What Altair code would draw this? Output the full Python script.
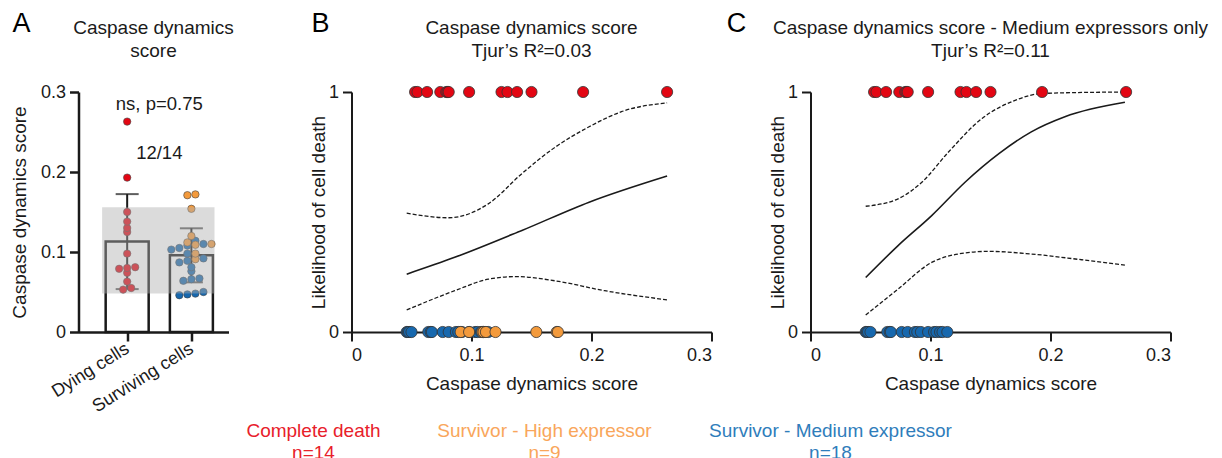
import altair as alt
import pandas as pd

FONT = "Liberation Sans"
INK = "#1a1a1a"

# ---------------- data ----------------
dying_scores = [0.053, 0.055, 0.063, 0.074, 0.079, 0.080, 0.081, 0.098,
                0.125, 0.130, 0.138, 0.150, 0.193, 0.263]
high_scores = [0.091, 0.098, 0.109, 0.110, 0.112, 0.120, 0.154, 0.171, 0.172]
medium_scores = [0.046, 0.047, 0.048, 0.050, 0.064, 0.066, 0.067, 0.076, 0.081,
                 0.087, 0.089, 0.092, 0.098, 0.103, 0.105, 0.108, 0.110, 0.114]

group_names = ["Dying cells", "Surviving cells"]
class_names = ["Complete death", "Survivor - High expressor", "Survivor - Medium expressor"]
class_counts = [14, 9, 18]
point_colors = ["#E30613", "#F39A3C", "#1768AE"]
legend_colors = ["#E8202A", "#F9A65B", "#2F7DBB"]
panel_letters = ["A", "B", "C"]
panel_titles = [
    "Caspase dynamics\nscore",
    "Caspase dynamics score\nTjur’s R²=0.03",
    "Caspase dynamics score - Medium expressors only\nTjur’s R²=0.11",
]

band_range = [0.048, 0.156]
annot_text = ["ns, p=0.75", "12/14"]
annot_y = [0.285, 0.224]

# panel B logistic fit and confidence band
b_fit_x = [0.046, 0.086, 0.142, 0.198, 0.263]
b_fit_y = [0.241, 0.311, 0.423, 0.541, 0.650]
b_up_x = [0.046, 0.081, 0.114, 0.142, 0.170, 0.198, 0.225, 0.263]
b_up_y = [0.495, 0.476, 0.534, 0.660, 0.771, 0.855, 0.918, 0.955]
b_lo_x = [0.046, 0.086, 0.114, 0.137, 0.170, 0.211, 0.263]
b_lo_y = [0.092, 0.172, 0.220, 0.231, 0.213, 0.172, 0.134]

# panel C
c_fit_x = [0.046, 0.073, 0.101, 0.129, 0.157, 0.184, 0.212, 0.262]
c_fit_y = [0.227, 0.360, 0.485, 0.625, 0.743, 0.834, 0.897, 0.957]
c_up_x = [0.046, 0.073, 0.093, 0.115, 0.143, 0.171, 0.193, 0.262]
c_up_y = [0.524, 0.555, 0.625, 0.750, 0.890, 0.966, 0.994, 1.000]
c_lo_x = [0.046, 0.073, 0.101, 0.123, 0.148, 0.184, 0.226, 0.262]
c_lo_y = [0.071, 0.179, 0.290, 0.325, 0.336, 0.325, 0.301, 0.279]

# ---------------- tables ----------------
rows = []
for s in dying_scores:
    rows.append({"score": s, "cls": class_names[0], "group": group_names[0], "outcome": 1})
for s in medium_scores:
    rows.append({"score": s, "cls": class_names[2], "group": group_names[1], "outcome": 0})
for s in high_scores:
    rows.append({"score": s, "cls": class_names[1], "group": group_names[1], "outcome": 0})
cells = pd.DataFrame(rows)

color_enc = alt.Color("cls:N", scale=alt.Scale(domain=class_names, range=point_colors), legend=None)
zero_fmt = "datum.value == 0 ? '0' : format(datum.value, '.1f')"


def letter(i, dx):
    return alt.Chart(pd.DataFrame({"L": [panel_letters[i]]})).mark_text(
        fontSize=27, color="black", font=FONT, align="center", baseline="middle"
    ).encode(text="L:N", x=alt.value(dx), y=alt.value(-68))


def title_text(i, cx):
    return alt.Chart(pd.DataFrame({"T": [panel_titles[i]]})).mark_text(
        fontSize=19, color=INK, font=FONT, align="center", baseline="middle",
        lineBreak="\n", lineHeight=23
    ).encode(text="T:N", x=alt.value(cx), y=alt.value(-64))


# ---------------- panel A ----------------
xA = alt.Scale(domain=[0.32, 2.5], nice=False, zero=False)
yA = alt.Scale(domain=[0, 0.3], nice=False)
xaxisA = alt.Axis(values=[1, 2], title=None,
                  labelExpr=f"datum.value == 1 ? '{group_names[0]}' : '{group_names[1]}'",
                  labelAngle=-32, labelAlign="right", labelBaseline="middle",
                  labelPadding=6, domainWidth=2.5, tickWidth=2.5, tickSize=9, labelFontSize=18)
yaxisA = alt.Axis(values=[0, 0.1, 0.2, 0.3], labelExpr=zero_fmt, title="Caspase dynamics score",
                  domainWidth=2.5, tickWidth=2.5, tickSize=9, labelPadding=4, titlePadding=11)

baseA = alt.Chart(cells).transform_calculate(
    idx=f"datum.group == '{group_names[0]}' ? 1 : 2")

bars = baseA.transform_aggregate(mean="mean(score)", groupby=["idx"]).mark_bar(
    size=43, fill="white", stroke=INK, strokeWidth=2.5
).encode(x=alt.X("idx:Q", scale=xA, axis=xaxisA), y=alt.Y("mean:Q", scale=yA, axis=yaxisA))

stats = baseA.transform_aggregate(
    m="mean(score)", sd="stdev(score)", groupby=["idx"]
).transform_calculate(lo="datum.m - datum.sd", hi="datum.m + datum.sd")

err_rule = stats.mark_rule(color=INK, strokeWidth=2).encode(
    x=alt.X("idx:Q", scale=xA, axis=xaxisA), y=alt.Y("lo:Q", scale=yA, axis=yaxisA), y2="hi:Q")
cap_hi = stats.mark_tick(orient="horizontal", size=23, thickness=2, color=INK).encode(
    x=alt.X("idx:Q", scale=xA, axis=xaxisA), y=alt.Y("hi:Q", scale=yA, axis=yaxisA))
cap_lo = stats.mark_tick(orient="horizontal", size=23, thickness=2, color=INK).encode(
    x=alt.X("idx:Q", scale=xA, axis=xaxisA), y=alt.Y("lo:Q", scale=yA, axis=yaxisA))

ptsA = baseA.transform_calculate(
    ybin="floor(datum.score / 0.0085)"
).transform_window(
    rn="row_number()", groupby=["idx", "ybin"], sort=[alt.SortField("score")]
).transform_joinaggregate(
    cnt="count()", groupby=["idx", "ybin"]
).transform_calculate(
    xpos="datum.idx + (datum.rn - (datum.cnt + 1) / 2) * 0.125"
).mark_circle(size=55, opacity=1, stroke="#444", strokeWidth=0.6).encode(
    x=alt.X("xpos:Q", scale=xA, axis=xaxisA), y=alt.Y("score:Q", scale=yA, axis=yaxisA),
    color=color_enc)

band = alt.Chart(pd.DataFrame({"lo": [band_range[0]], "hi": [band_range[1]]})).mark_rect(
    color="#b0b0b0", opacity=0.45
).encode(x=alt.datum(0.61), x2=alt.datum(2.36), y=alt.Y("lo:Q", scale=yA, axis=yaxisA), y2="hi:Q")

annotA = alt.Chart(pd.DataFrame({"t": annot_text, "y": annot_y})).mark_text(
    fontSize=18.5, color=INK, font=FONT
).encode(x=alt.datum(1.5), y=alt.Y("y:Q", scale=yA, axis=yaxisA), text="t:N")

panelA = alt.layer(
    bars, err_rule, cap_hi, cap_lo, ptsA, band, annotA, letter(0, -57), title_text(0, 75)
).properties(width=150, height=240)

# ---------------- panels B and C ----------------
xL = alt.Scale(domain=[0, 0.3], nice=False)
yL = alt.Scale(domain=[0, 1], nice=False)
xaxisL = alt.Axis(values=[0, 0.1, 0.2, 0.3], labelExpr=zero_fmt, title="Caspase dynamics score",
                  labelPadding=5, titlePadding=10)
yaxisL = alt.Axis(values=[0, 1], format="d", title="Likelihood of cell death",
                  labelPadding=4, titlePadding=0)


def curve(xs, ys, dashed):
    kw = dict(interpolate="monotone", color=INK, strokeWidth=1.3 if dashed else 1.6)
    if dashed:
        kw["strokeDash"] = [4, 2]
    return alt.Chart(pd.DataFrame({"x": xs, "y": ys})).mark_line(**kw).encode(
        x=alt.X("x:Q", scale=xL, axis=xaxisL), y=alt.Y("y:Q", scale=yL, axis=yaxisL))


# legend texts below the panels (placed relative to panel B's plot area)
legend_x = [-38, 193, 479]


def legend_item(i):
    d = pd.DataFrame({"label": [class_names[i]], "n": [f"n={class_counts[i]}"]})
    names = alt.Chart(d).mark_text(fontSize=19, baseline="middle", font=FONT,
                                   color=legend_colors[i]).encode(
        x=alt.value(legend_x[i]), y=alt.value(339), text="label:N")
    counts = alt.Chart(d).mark_text(fontSize=19, baseline="middle", font=FONT,
                                    color=legend_colors[i]).encode(
        x=alt.value(legend_x[i]), y=alt.value(361), text="n:N")
    return [names, counts]


def logistic_panel(data, fit, up, lo, li, ldx, extra):
    pts = alt.Chart(data).mark_circle(size=125, opacity=1, stroke="#333", strokeWidth=0.8).encode(
        x=alt.X("score:Q", scale=xL, axis=xaxisL), y=alt.Y("outcome:Q", scale=yL, axis=yaxisL),
        color=color_enc)
    return alt.layer(
        curve(*fit, False), curve(*up, True), curve(*lo, True), pts,
        letter(li, ldx), title_text(li, 180), *extra
    ).properties(width=360, height=240)


legend_layers = legend_item(0) + legend_item(1) + legend_item(2)
panelB = logistic_panel(cells, (b_fit_x, b_fit_y), (b_up_x, b_up_y), (b_lo_x, b_lo_y), 1, -31,
                        legend_layers)
cellsC = cells[cells["cls"] != class_names[1]]
panelC = logistic_panel(cellsC, (c_fit_x, c_fit_y), (c_up_x, c_up_y), (c_lo_x, c_lo_y), 2, -74, [])

chart = alt.hconcat(
    panelA, alt.hconcat(panelB, panelC, spacing=99, bounds="flush"),
    spacing=123, bounds="flush"
).properties(
    padding={"left": 1.5, "top": 2, "right": 0, "bottom": 0}
).configure_view(stroke=None).configure_axis(
    grid=False, domainColor=INK, tickColor=INK, labelColor=INK, titleColor=INK,
    labelFont=FONT, titleFont=FONT, labelFontSize=18, titleFontSize=19,
    titleFontWeight="normal", tickSize=9, domainWidth=2, tickWidth=2
).configure_text(font=FONT)

chart.save("out.html", embed_options={"renderer": "svg", "actions": False})
